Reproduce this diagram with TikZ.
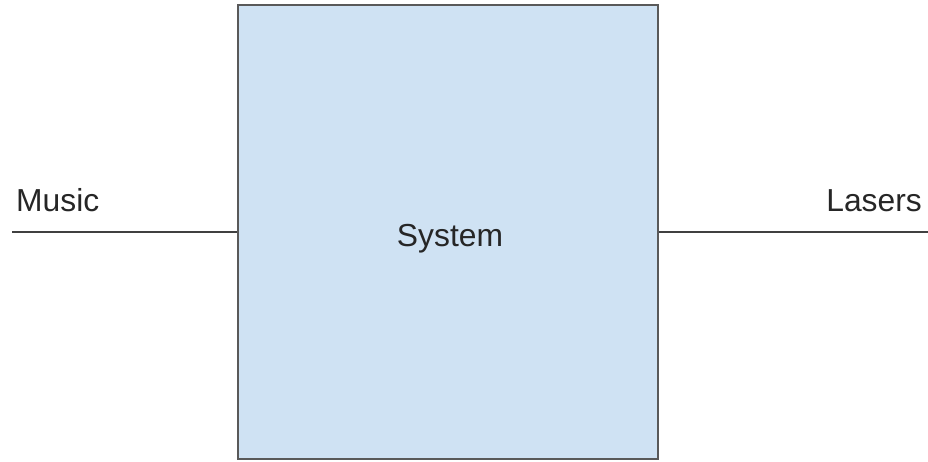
\documentclass[tikz,border=0pt]{standalone}
\usepackage{fontspec}
\setmainfont{Liberation Sans}
\definecolor{boxfill}{HTML}{CFE2F3}
\definecolor{boxline}{HTML}{595959}
\definecolor{wire}{HTML}{404040}
\begin{document}
\begin{tikzpicture}[x=1pt,y=-1pt,
  lbl/.style={font=\fontsize{31.8}{38}\selectfont, text=black!85, inner sep=0pt, anchor=base},
  sysbox/.style={draw=boxline, fill=boxfill, line width=2pt, minimum width=420pt, minimum height=454pt, inner sep=0pt},
  wireline/.style={draw=wire, line width=1.8pt}]
\useasboundingbox (0,0) rectangle (928,461);
\node[sysbox] (sys) at (448,232) {};
\node[lbl] (syslbl) at (450,246) {System};
\coordinate (inL) at (12,232);
\coordinate (outR) at (928,232);
\draw[wireline] (inL) -- (sys.west |- inL);
\draw[wireline] (sys.east |- outR) -- (outR);
\node[lbl, anchor=base west] (music) at (16,211) {Music};
\node[lbl, anchor=base east] (lasers) at (922,211) {Lasers};
\end{tikzpicture}
\end{document}
